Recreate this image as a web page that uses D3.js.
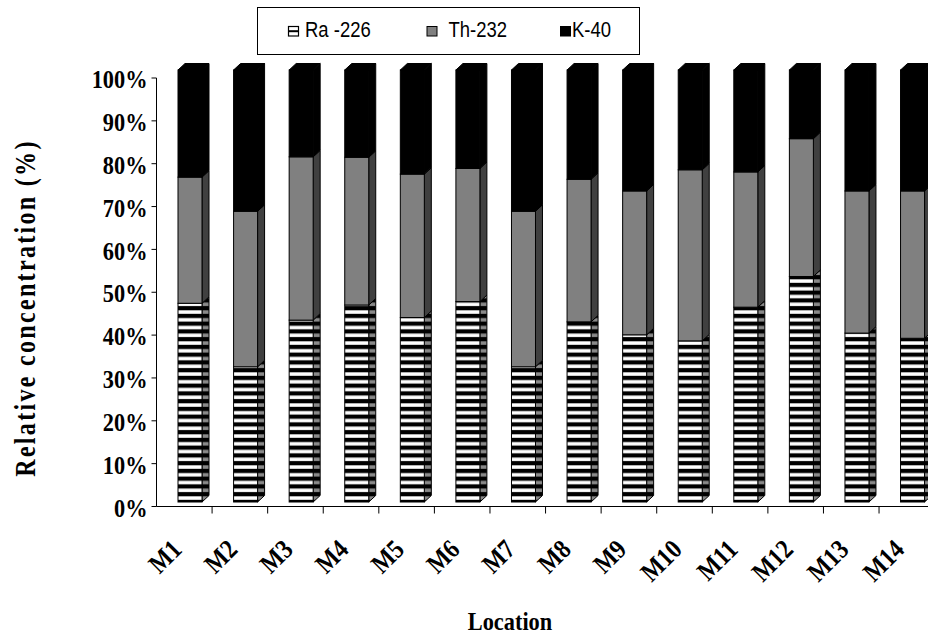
<!DOCTYPE html>
<html><head><meta charset="utf-8">
<script src="https://cdn.jsdelivr.net/npm/d3@7"></script>
<style>html,body{margin:0;padding:0;background:#fff;overflow:hidden}</style>
</head><body>
<svg id="chart" width="928" height="641"></svg>
<script>
// ---- data ----
const categories = ["M1","M2","M3","M4","M5","M6","M7","M8","M9","M10","M11","M12","M13","M14"];
const seriesNames = ["Ra -226","Th-232","K-40"];
const ra226 = [46.0,31.3,42.1,45.6,42.7,46.4,31.3,41.7,38.7,37.3,45.1,52.2,39.1,37.9];
const th232 = [29.2,36.0,37.8,34.2,33.2,30.8,36.0,33.0,33.3,39.6,31.3,31.9,32.9,34.1];
const k40   = [24.8,32.7,20.1,20.2,24.1,22.8,32.7,25.3,28.0,23.1,23.6,15.9,28.0,28.0];
const yTickValues = [0,0.1,0.2,0.3,0.4,0.5,0.6,0.7,0.8,0.9,1.0];

const svg = d3.select("#chart");
const W = 928, H = 641;
const serif = "'Liberation Serif','Times New Roman',serif";
const sans = "'Liberation Sans',Arial,sans-serif";
const SX = 0.86; // condensed text in the reference

// scales
const axisLeft = 156.5, axisBottom = 506.5, axisTop = 78;
const step = 55.58;
const x = d3.scaleBand().domain(categories).range([axisLeft, axisLeft + step*categories.length]).padding(0);
const yAxisScale = d3.scaleLinear().domain([0,1]).range([axisBottom, axisTop]);
const yBar = d3.scaleLinear().domain([0,100]).range([502, 70]);
const frontOffset = 21.5, frontW = 24, dX = 7, dY = -6.5;

// patterns
const defs = svg.append("defs");
function stripePattern(id, light){
  const p = defs.append("pattern").attr("id", id).attr("patternUnits","userSpaceOnUse")
    .attr("width", 10).attr("height", 7.75);
  p.append("rect").attr("width",10).attr("height",7.75).attr("fill","#000");
  p.append("rect").attr("y",0.3).attr("width",10).attr("height",3.5).attr("fill",light);
}
stripePattern("raFront","#ffffff");
stripePattern("raSide","#8a8a8a");

const frontFill = ["url(#raFront)","#808080","#000"];
const sideFill  = ["url(#raSide)","#404040","#000"];

// stack
const rows = categories.map((c,i)=>({cat:c, "Ra -226":ra226[i], "Th-232":th232[i], "K-40":k40[i]}));
const stacked = d3.stack().keys(seriesNames)(rows);

// axes
const gx = svg.append("g");
gx.append("line").attr("x1",axisLeft).attr("x2",W).attr("y1",axisBottom).attr("y2",axisBottom)
  .attr("stroke","#000").attr("stroke-width",1);
categories.forEach((c,i)=>{
  if(i===0) return;
  gx.append("line").attr("x1",x(c)).attr("x2",x(c)).attr("y1",axisBottom).attr("y2",axisBottom+7)
    .attr("stroke","#000").attr("stroke-width",1);
});
const gy = svg.append("g");
gy.append("line").attr("x1",axisLeft).attr("x2",axisLeft).attr("y1",axisTop).attr("y2",axisBottom)
  .attr("stroke","#000").attr("stroke-width",1);
yTickValues.forEach(v=>{
  const yy = yAxisScale(v);
  gy.append("line").attr("x1",axisLeft-5).attr("x2",axisLeft).attr("y1",yy).attr("y2",yy)
    .attr("stroke","#000").attr("stroke-width",1);
  gy.append("g").attr("transform",`translate(${axisLeft-9},${yy+1}) scale(${SX},1)`)
    .append("text").attr("text-anchor","end").attr("dy","0.35em")
    .attr("font-family",serif).attr("font-weight","bold").attr("font-size",26)
    .text(d3.format(".0%")(v));
});

// bars
const gb = svg.append("g");
stacked.forEach((layer, si)=>{
  layer.forEach((d, i)=>{
    const c = categories[i];
    const xl = x(c) + frontOffset, xr = xl + frontW;
    const yb = yBar(d[0]), yt = yBar(d[1]);
    gb.append("path")
      .attr("d", `M${xr},${yt}L${xr+dX},${yt+dY}L${xr+dX},${yb+dY}L${xr},${yb}Z`)
      .attr("fill", sideFill[si]).attr("stroke","#000").attr("stroke-width",1).attr("stroke-linejoin","round");
    gb.append("rect").attr("x",xl).attr("y",yt).attr("width",frontW).attr("height",yb-yt)
      .attr("fill", frontFill[si]).attr("stroke","#000").attr("stroke-width",1);
    if(si === stacked.length-1){
      gb.append("path")
        .attr("d", `M${xl},${yt}L${xl+dX},${yt+dY}L${xr+dX},${yt+dY}L${xr},${yt}Z`)
        .attr("fill","#000").attr("stroke","#000").attr("stroke-width",1);
    }
  });
});

// x tick labels
categories.forEach(c=>{
  const cx = x(c) + x.bandwidth()/2;
  svg.append("text")
    .attr("transform",`translate(${cx-1},${551}) rotate(-45) scale(${SX},1)`)
    .attr("text-anchor","end")
    .attr("font-family",serif).attr("font-weight","bold").attr("font-size",27)
    .text(c);
});

// axis titles
svg.append("g").attr("transform",`translate(510,630) scale(${SX},1)`)
  .append("text").attr("text-anchor","middle")
  .attr("font-family",serif).attr("font-weight","bold").attr("font-size",26)
  .text("Location");
svg.append("text").attr("transform","translate(35,308) rotate(-90) scale(0.8,1)")
  .attr("text-anchor","middle")
  .attr("font-family",serif).attr("font-weight","bold").attr("font-size",30)
  .attr("letter-spacing",2.9)
  .text("Relative concentration (%)");

// legend
const lg = svg.append("g");
lg.append("rect").attr("x",257.5).attr("y",7.5).attr("width",382).attr("height",47)
  .attr("fill","#fff").attr("stroke","#000").attr("stroke-width",1);
const legendItems = [
  {name: seriesNames[0], sx: 288, tx: 305},
  {name: seriesNames[1], sx: 426.5, tx: 448.5},
  {name: seriesNames[2], sx: 560, tx: 572}
];
legendItems.forEach((it, i)=>{
  const sw = lg.append("g");
  if(i===0){
    sw.append("rect").attr("x",it.sx+0.5).attr("y",26.5).attr("width",10).attr("height",9.5)
      .attr("fill","#fff").attr("stroke","#000").attr("stroke-width",1.2);
    sw.append("line").attr("x1",it.sx+0.5).attr("x2",it.sx+10.5).attr("y1",31.2).attr("y2",31.2)
      .attr("stroke","#000").attr("stroke-width",2);
  } else {
    sw.append("rect").attr("x",it.sx+0.5).attr("y",26.5).attr("width",10).attr("height",9.5)
      .attr("fill", i===1 ? "#808080" : "#000").attr("stroke","#000").attr("stroke-width",1);
  }
  lg.append("g").attr("transform",`translate(${it.tx},36.5) scale(0.84,1)`)
    .append("text").attr("font-family",sans).attr("font-size",22).text(it.name);
});
</script>
</body></html>
